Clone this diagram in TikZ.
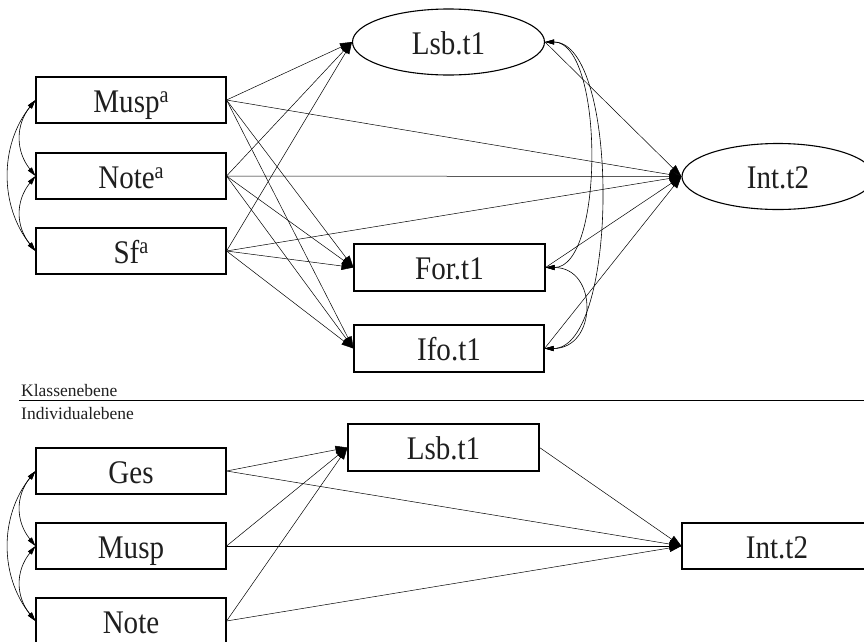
\documentclass[tikz,border=0pt]{standalone}
\usepackage{fontspec}
\setmainfont{Liberation Serif}
\newfontfamily\boxfont[FakeStretch=0.88]{Liberation Serif}
\newcommand\mysupa{\raisebox{10pt}{\fontsize{23}{23}\selectfont a}}
\usetikzlibrary{arrows.meta,shapes.geometric}
\begin{document}
\begin{tikzpicture}[x=1pt,y=-1pt,
  box/.style={draw,line width=1.1pt,minimum width=190pt,minimum height=46pt,inner sep=0pt,
    text height=30pt,text depth=6pt,font=\boxfont\fontsize{33}{36}\selectfont,text=black!88},
  ell/.style={draw,ellipse,line width=1.1pt,minimum width=192pt,minimum height=66pt,inner sep=0pt,
    text height=30pt,text depth=6pt,font=\boxfont\fontsize{33}{36}\selectfont,text=black!88},
  arr/.style={-{Triangle[length=12pt,width=8pt]},line width=0.5pt},
  cov/.style={{Triangle[length=9pt,width=5pt]}-{Triangle[length=9pt,width=5pt]},line width=0.6pt},
  lab/.style={font=\fontsize{17.5}{19}\selectfont,anchor=base west,inner sep=0pt,text=black!88}
]
\useasboundingbox (0,0) rectangle (864,641);
\clip (0,0) rectangle (864,641);

% ---- Klassenebene ----
\node[box] (Musp) at (131,100) {Musp\mysupa};
\node[box] (Note) at (131,176) {Note\mysupa};
\node[box] (Sf)   at (131,251) {Sf\mysupa};
\node[ell] (Lsb)  at (448.5,42) {Lsb.t1};
\node[ell] (Int)  at (778,176.5) {Int.t2};
\node[box,minimum width=191pt,minimum height=47pt] (For) at (449.5,267.5) {For.t1};
\node[box,minimum height=47pt] (Ifo) at (449,348.5) {Ifo.t1};

\foreach \s in {Musp,Note,Sf}{
  \foreach \t in {Lsb,Int,For,Ifo}{
    \draw[arr] (\s.east) -- (\t.west);
  }
}
\draw[arr] (Lsb.east) -- (Int.west);
\draw[arr] (For.east) -- (Int.west);
\draw[arr] (Ifo.east) -- (Int.west);

\draw[cov] (Musp.west) .. controls +(-20,25) and +(-20,-25) .. (Note.west);
\draw[cov] (Note.west) .. controls +(-20,25) and +(-20,-25) .. (Sf.west);
\draw[cov] (Musp.west) .. controls +(-36,45) and +(-36,-45) .. (Sf.west);

\draw[cov] (Lsb.east) to[out=0,in=0,looseness=0.67] (For.east);
\draw[cov] (Lsb.east) to[out=0,in=0,looseness=0.625] (Ifo.east);
\draw[cov] (For.east) to[out=0,in=0,looseness=1.67] (Ifo.east);

% ---- separator ----
\coordinate (sepL) at (19,400);
\coordinate (sepR) at (864,400);
\draw[line width=0.9pt] (sepL) -- (sepR);
\node[lab] (kl)  at (21,396) {Klassenebene};
\node[lab] (ind) at (21,419) {Individualebene};

% ---- Individualebene ----
\node[box] (Ges)   at (131,471) {Ges};
\node[box] (MuspI) at (131,546) {Musp};
\node[box] (NoteI) at (131,621) {Note};
\node[box,minimum width=191pt,minimum height=47pt] (LsbI) at (443.5,447.5) {Lsb.t1};
\node[box] (IntI)  at (777,546) {Int.t2};

\foreach \s in {Ges,MuspI,NoteI}{
  \draw[arr] (\s.east) -- (LsbI.west);
  \draw[arr] (\s.east) -- (IntI.west);
}
\draw[arr] (LsbI.east) -- (IntI.west);

\draw[cov] (Ges.west) .. controls +(-20,25) and +(-20,-25) .. (MuspI.west);
\draw[cov] (MuspI.west) .. controls +(-20,25) and +(-20,-25) .. (NoteI.west);
\draw[cov] (Ges.west) .. controls +(-36,45) and +(-36,-45) .. (NoteI.west);
\end{tikzpicture}
\end{document}
